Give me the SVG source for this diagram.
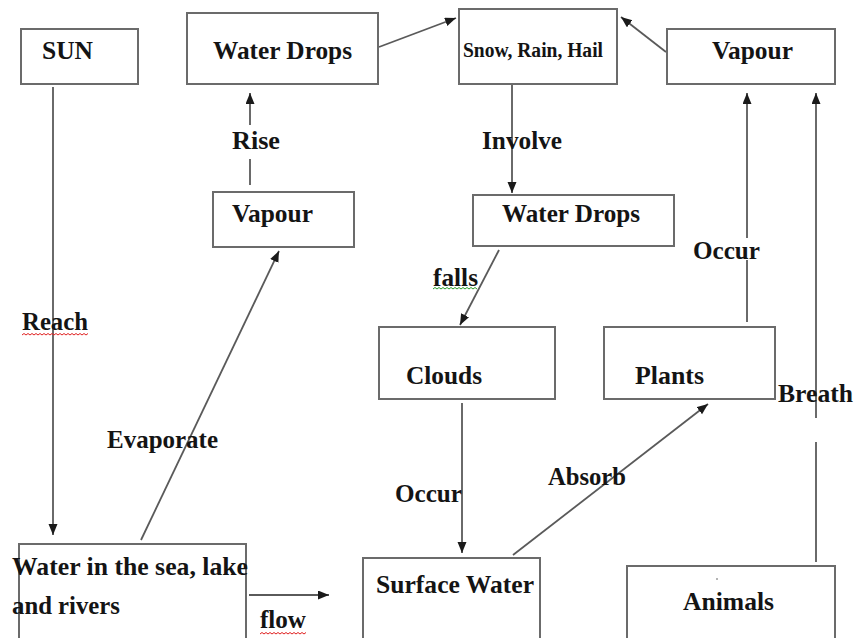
<svg xmlns="http://www.w3.org/2000/svg" width="858" height="638" viewBox="0 0 858 638">
<defs>
<style>
.box{fill:#fff;stroke:#6b6b6b;stroke-width:2}
.t{font-family:"Liberation Serif","Times New Roman",serif;font-weight:bold;font-size:26px;fill:#141414}
.s{font-size:20px}
.ln{stroke:#5a5a5a;stroke-width:1.8;fill:none}
.sq{fill:none;stroke-width:1}
</style>
<marker id="ah" markerUnits="userSpaceOnUse" markerWidth="12" markerHeight="10" refX="11" refY="4.5" orient="auto">
<path d="M0,0 L11,4.5 L0,9 z" fill="#1a1a1a"/>
</marker>
</defs>
<rect width="858" height="638" fill="#fff"/>

<g id="connectors">
<line class="ln" x1="53" y1="87" x2="53" y2="535" marker-end="url(#ah)"/>
<line class="ln" x1="250" y1="185" x2="250" y2="159"/>
<line class="ln" x1="250" y1="125" x2="250" y2="93" marker-end="url(#ah)"/>
<line class="ln" x1="379" y1="47" x2="456" y2="18" marker-end="url(#ah)"/>
<line class="ln" x1="666" y1="52" x2="621" y2="17" marker-end="url(#ah)"/>
<line class="ln" x1="512" y1="84" x2="512" y2="193" marker-end="url(#ah)"/>
<line class="ln" x1="141" y1="540" x2="279" y2="251" marker-end="url(#ah)"/>
<line class="ln" x1="499" y1="250" x2="460" y2="325" marker-end="url(#ah)"/>
<line class="ln" x1="462" y1="403" x2="462" y2="553" marker-end="url(#ah)"/>
<line class="ln" x1="513" y1="555" x2="708" y2="404" marker-end="url(#ah)"/>
<line class="ln" x1="249" y1="595" x2="329" y2="595" marker-end="url(#ah)"/>
<line class="ln" x1="747" y1="322" x2="747" y2="260"/>
<line class="ln" x1="747" y1="238" x2="747" y2="93" marker-end="url(#ah)"/>
<line class="ln" x1="816" y1="562" x2="816" y2="442"/>
<line class="ln" x1="816" y1="418" x2="816" y2="93" marker-end="url(#ah)"/>
</g>

<g id="labels">
<text class="t" x="232" y="149" textLength="48" lengthAdjust="spacingAndGlyphs">Rise</text>
<text class="t" x="482" y="149" textLength="80" lengthAdjust="spacingAndGlyphs">Involve</text>
<text class="t" x="22" y="330" textLength="66" lengthAdjust="spacingAndGlyphs">Reach</text>
<text class="t" x="107" y="448" textLength="111" lengthAdjust="spacingAndGlyphs">Evaporate</text>
<text class="t" x="433" y="286" textLength="45" lengthAdjust="spacingAndGlyphs">falls</text>
<text class="t" x="693" y="259" textLength="67" lengthAdjust="spacingAndGlyphs">Occur</text>
<text class="t" x="395" y="502" textLength="67" lengthAdjust="spacingAndGlyphs">Occur</text>
<text class="t" x="548" y="485" textLength="78" lengthAdjust="spacingAndGlyphs">Absorb</text>
<text class="t" x="778" y="402" textLength="75" lengthAdjust="spacingAndGlyphs">Breath</text>
<text class="t" x="260" y="628" textLength="46" lengthAdjust="spacingAndGlyphs">flow</text>
<path class="sq" stroke="#e02020" d="M22,335 l2,-1.5 2,1.5 2,-1.5 2,1.5 2,-1.5 2,1.5 2,-1.5 2,1.5 2,-1.5 2,1.5 2,-1.5 2,1.5 2,-1.5 2,1.5 2,-1.5 2,1.5 2,-1.5 2,1.5 2,-1.5 2,1.5 2,-1.5 2,1.5 2,-1.5 2,1.5 2,-1.5 2,1.5 2,-1.5 2,1.5 2,-1.5 2,1.5 2,-1.5 2,1.5 2,-1.5"/>
<path class="sq" stroke="#2a9a2a" d="M433,289 l2,-1.5 2,1.5 2,-1.5 2,1.5 2,-1.5 2,1.5 2,-1.5 2,1.5 2,-1.5 2,1.5 2,-1.5 2,1.5 2,-1.5 2,1.5 2,-1.5 2,1.5 2,-1.5 2,1.5 2,-1.5 2,1.5 2,-1.5 2,1.5"/>
<path class="sq" stroke="#e02020" d="M260,634 l2,-1.5 2,1.5 2,-1.5 2,1.5 2,-1.5 2,1.5 2,-1.5 2,1.5 2,-1.5 2,1.5 2,-1.5 2,1.5 2,-1.5 2,1.5 2,-1.5 2,1.5 2,-1.5 2,1.5 2,-1.5 2,1.5 2,-1.5 2,1.5 2,-1.5"/>
</g>

<g id="sun"><rect class="box" x="21" y="29" width="117" height="55"/><text class="t" x="42" y="59" textLength="51" lengthAdjust="spacingAndGlyphs">SUN</text></g>
<g id="water-drops-top"><rect class="box" x="187" y="13" width="191" height="71"/><text class="t" x="213" y="59" textLength="139" lengthAdjust="spacingAndGlyphs">Water Drops</text></g>
<g id="snow-rain-hail"><rect class="box" x="459" y="9" width="158" height="75"/><text class="t s" x="463" y="57" textLength="140" lengthAdjust="spacingAndGlyphs">Snow, Rain, Hail</text></g>
<g id="vapour-top"><rect class="box" x="667" y="29" width="168" height="55"/><text class="t" x="712" y="59" textLength="81" lengthAdjust="spacingAndGlyphs">Vapour</text></g>
<g id="vapour-mid"><rect class="box" x="213" y="192" width="141" height="55"/><text class="t" x="232" y="222" textLength="81" lengthAdjust="spacingAndGlyphs">Vapour</text></g>
<g id="water-drops-mid"><rect class="box" x="473" y="195" width="201" height="51"/><text class="t" x="502" y="222" textLength="138" lengthAdjust="spacingAndGlyphs">Water Drops</text></g>
<g id="clouds"><rect class="box" x="379" y="327" width="176" height="72"/><text class="t" x="406" y="384" textLength="76" lengthAdjust="spacingAndGlyphs">Clouds</text></g>
<g id="plants"><rect class="box" x="604" y="327" width="171" height="72"/><text class="t" x="635" y="384" textLength="69" lengthAdjust="spacingAndGlyphs">Plants</text></g>
<g id="water-sea"><rect class="box" x="19" y="544" width="227" height="100"/><text class="t" x="12" y="575" textLength="236" lengthAdjust="spacingAndGlyphs">Water in the sea, lake</text><text class="t" x="12" y="614" textLength="108" lengthAdjust="spacingAndGlyphs">and rivers</text></g>
<g id="surface-water"><rect class="box" x="363" y="558" width="177" height="86"/><text class="t" x="376" y="593" textLength="158" lengthAdjust="spacingAndGlyphs">Surface Water</text></g>
<g id="animals"><rect class="box" x="627" y="566" width="208" height="78"/><circle cx="717" cy="579" r="0.8" fill="#555"/><text class="t" x="683" y="610" textLength="91" lengthAdjust="spacingAndGlyphs">Animals</text></g>
</svg>
